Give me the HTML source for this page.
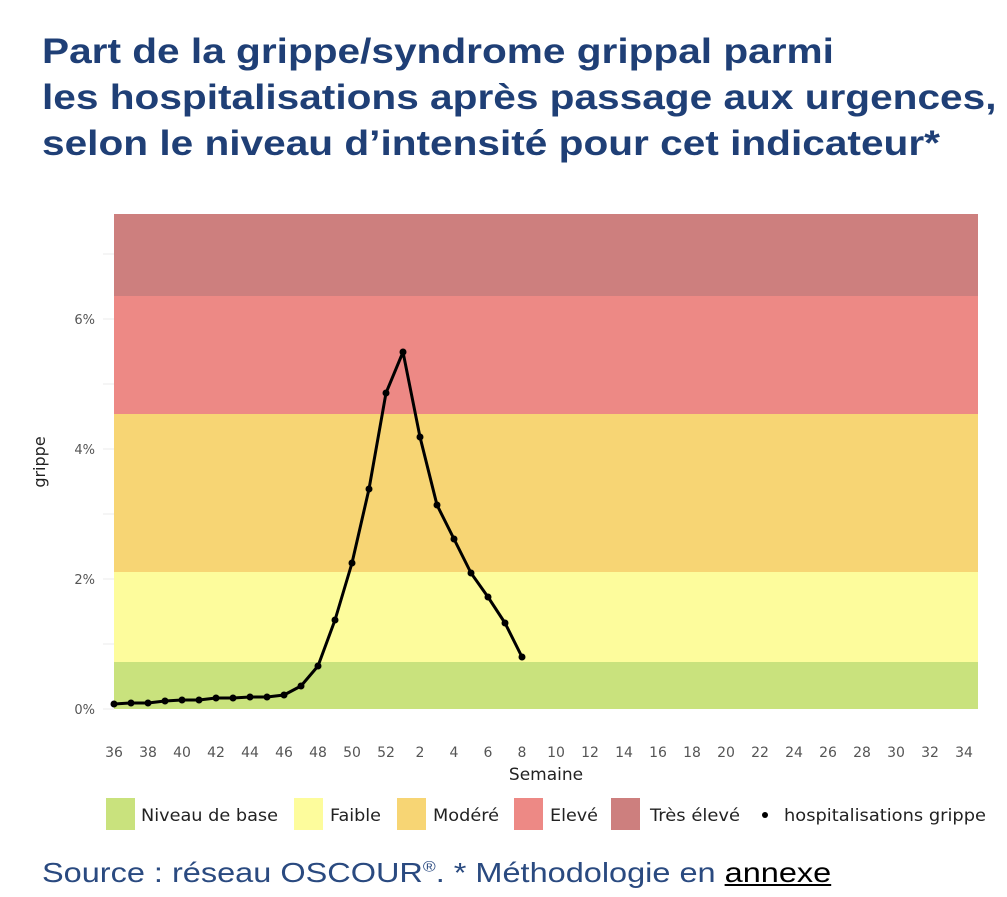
<!DOCTYPE html>
<html><head><meta charset="utf-8"><style>
body{margin:0;background:#fff;width:1007px;height:897px;overflow:hidden;font-family:"Liberation Sans",sans-serif}
.t{position:absolute;left:42px;top:29px;color:#1f3f76;font-weight:bold;font-size:35px;line-height:46px;transform:scaleX(1.16);transform-origin:0 0;white-space:nowrap}
.s{position:absolute;left:42px;top:857px;color:#2a4a80;font-size:28px;transform:scaleX(1.16);transform-origin:0 0;white-space:nowrap}
</style></head><body>
<div class="t">Part de la grippe/syndrome grippal parmi<br>les hospitalisations après passage aux urgences,<br>selon le niveau d’intensité pour cet indicateur*</div>
<svg style="position:absolute;left:0;top:0" width="1007" height="897" font-family="DejaVu Sans, sans-serif">
<g stroke="#ebebeb" stroke-width="1">
<line x1="103" x2="114" y1="709" y2="709"/><line x1="103" x2="114" y1="579" y2="579"/><line x1="103" x2="114" y1="449" y2="449"/><line x1="103" x2="114" y1="319" y2="319"/>
<line x1="103" x2="114" y1="644" y2="644"/><line x1="103" x2="114" y1="514" y2="514"/><line x1="103" x2="114" y1="384" y2="384"/><line x1="103" x2="114" y1="254" y2="254"/>
</g>
<rect x="114" y="214" width="864" height="82" fill="#cd7f7e"/>
<rect x="114" y="296" width="864" height="118" fill="#ed8985"/>
<rect x="114" y="414" width="864" height="158" fill="#f7d574"/>
<rect x="114" y="572" width="864" height="90" fill="#fdfc9c"/>
<rect x="114" y="662" width="864" height="47" fill="#c9e27d"/>
<g font-size="13" fill="#555" text-anchor="end">
<text x="95" y="714">0%</text><text x="95" y="584">2%</text><text x="95" y="454">4%</text><text x="95" y="324">6%</text>
</g>
<text transform="translate(45,462) rotate(-90)" text-anchor="middle" font-size="16" fill="#222">grippe</text>
<g font-size="14" fill="#555" text-anchor="middle">
<text x="114" y="757">36</text><text x="148" y="757">38</text><text x="182" y="757">40</text><text x="216" y="757">42</text><text x="250" y="757">44</text><text x="284" y="757">46</text><text x="318" y="757">48</text><text x="352" y="757">50</text><text x="386" y="757">52</text><text x="420" y="757">2</text><text x="454" y="757">4</text><text x="488" y="757">6</text><text x="522" y="757">8</text><text x="556" y="757">10</text><text x="590" y="757">12</text><text x="624" y="757">14</text><text x="658" y="757">16</text><text x="692" y="757">18</text><text x="726" y="757">20</text><text x="760" y="757">22</text><text x="794" y="757">24</text><text x="828" y="757">26</text><text x="862" y="757">28</text><text x="896" y="757">30</text><text x="930" y="757">32</text><text x="964" y="757">34</text>
</g>
<text x="546" y="780" text-anchor="middle" font-size="17" fill="#222">Semaine</text>
<polyline fill="none" stroke="#000" stroke-width="3" stroke-linejoin="round" points="114,704 131,703 148,703 165,701 182,700 199,700 216,698 233,698 250,697 267,697 284,695 301,686 318,666 335,620 352,563 369,489 386,393 403,352 420,437 437,505 454,539 471,573 488,597 505,623 522,657"/>
<g fill="#000">
<circle cx="114" cy="704" r="3.5"/><circle cx="131" cy="703" r="3.5"/><circle cx="148" cy="703" r="3.5"/><circle cx="165" cy="701" r="3.5"/><circle cx="182" cy="700" r="3.5"/><circle cx="199" cy="700" r="3.5"/><circle cx="216" cy="698" r="3.5"/><circle cx="233" cy="698" r="3.5"/><circle cx="250" cy="697" r="3.5"/><circle cx="267" cy="697" r="3.5"/><circle cx="284" cy="695" r="3.5"/><circle cx="301" cy="686" r="3.5"/><circle cx="318" cy="666" r="3.5"/><circle cx="335" cy="620" r="3.5"/><circle cx="352" cy="563" r="3.5"/><circle cx="369" cy="489" r="3.5"/><circle cx="386" cy="393" r="3.5"/><circle cx="403" cy="352" r="3.5"/><circle cx="420" cy="437" r="3.5"/><circle cx="437" cy="505" r="3.5"/><circle cx="454" cy="539" r="3.5"/><circle cx="471" cy="573" r="3.5"/><circle cx="488" cy="597" r="3.5"/><circle cx="505" cy="623" r="3.5"/><circle cx="522" cy="657" r="3.5"/>
</g>
<g font-size="17" fill="#222">
<rect x="106" y="798" width="29" height="32" fill="#c9e27d"/><text x="141" y="821" textLength="137" lengthAdjust="spacingAndGlyphs">Niveau de base</text>
<rect x="294" y="798" width="29" height="32" fill="#fdfc9c"/><text x="330" y="821" textLength="51" lengthAdjust="spacingAndGlyphs">Faible</text>
<rect x="397" y="798" width="29" height="32" fill="#f7d574"/><text x="433" y="821" textLength="66" lengthAdjust="spacingAndGlyphs">Modéré</text>
<rect x="514" y="798" width="29" height="32" fill="#ed8985"/><text x="550" y="821" textLength="48" lengthAdjust="spacingAndGlyphs">Elevé</text>
<rect x="611" y="798" width="29" height="32" fill="#cd7f7e"/><text x="650" y="821" textLength="90" lengthAdjust="spacingAndGlyphs">Très élevé</text>
<circle cx="765" cy="815" r="3" fill="#000"/><text x="784" y="821" textLength="202" lengthAdjust="spacingAndGlyphs">hospitalisations grippe</text>
</g>
</svg>
<div class="s">Source : réseau OSCOUR<sup style="font-size:15px">®</sup>. * Méthodologie en <span style="color:#000;text-decoration:underline">annexe</span></div>
</body></html>
